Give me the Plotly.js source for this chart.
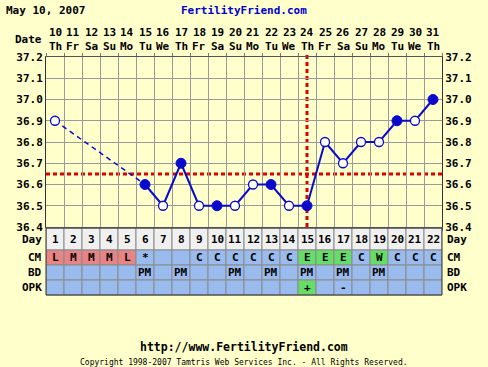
<!DOCTYPE html>
<html>
<head>
<meta charset="utf-8">
<script src="https://cdn.plot.ly/plotly-3.0.1.min.js"></script>
<style>
html,body{margin:0;padding:0;background:#FFFFCC;}
#chart{width:488px;height:367px;}
</style>
</head>
<body>
<div id="chart"></div>
<script>
// ---- data ----
const days = [1,2,3,4,5,6,7,8,9,10,11,12,13,14,15,16,17,18,19,20,21,22];
const dateNums = ['10','11','12','13','14','15','16','17','18','19','20','21','22','23','24','25','26','27','28','29','30','31'];
const weekdays = ['Th','Fr','Sa','Su','Mo','Tu','We','Th','Fr','Sa','Su','Mo','Tu','We','Th','Fr','Sa','Su','Mo','Tu','We','Th'];
const temps = [36.9,null,null,null,null,36.6,36.5,36.7,36.5,36.5,36.5,36.6,36.6,36.5,36.5,36.8,36.7,36.8,36.8,36.9,36.9,37.0];
const filled = [0,0,0,0,0,1,0,1,0,1,0,0,1,0,1,0,0,0,0,1,0,1];
const coverline = 36.65;
const ovulationDay = 15;
const cm  = ['L','M','M','M','L','*','','','C','C','C','C','C','C','E','E','E','C','W','C','C','C'];
const bd  = ['','','','','','PM','','PM','','','PM','','PM','','PM','','PM','','PM','','',''];
const opk = ['','','','','','','','','','','','','','','+','','-','','','','',''];
const yTicks = [36.4,36.5,36.6,36.7,36.8,36.9,37.0,37.1,37.2];
const rowLabels = ['Day','CM','BD','OPK'];

// ---- geometry helpers ----
const W = 488, H = 367;
const M = {l:46, r:46, t:57, b:140};
const plotH = H - M.t - M.b; // 170
const plotBottom = H - M.b;  // 227
const plotW = W - M.l - M.r;
const py = p => (plotBottom - p) / plotH;
const px = p => (p - M.l) / plotW;

const FONT = 'DejaVu Sans Mono, monospace';
const BLUE = '#0A0ACC';
const RED = '#DD0000';

// ---- traces ----
const traces = [];
const valid = days.map((d,i)=>i).filter(i=>temps[i]!==null);
for (let k=1;k<valid.length;k++){
  const a=valid[k-1], b=valid[k];
  if (b-a>1){
    traces.push({x:[days[a],days[b]], y:[temps[a],temps[b]], mode:'lines',
      line:{color:BLUE,width:1.5,dash:'5px,4px'}, hoverinfo:'skip', showlegend:false});
  }
}
traces.push({x:days, y:temps, mode:'lines', connectgaps:false,
  line:{color:BLUE,width:2}, hoverinfo:'skip', showlegend:false});
const openX=[],openY=[],fillX=[],fillY=[];
days.forEach((d,i)=>{ if(temps[i]===null) return; if(filled[i]){fillX.push(d);fillY.push(temps[i]);} else {openX.push(d);openY.push(temps[i]);} });
traces.push({x:openX,y:openY,mode:'markers',marker:{symbol:'circle',size:9,color:'#FFFFFF',line:{color:BLUE,width:1.3}},hoverinfo:'skip',showlegend:false});
traces.push({x:fillX,y:fillY,mode:'markers',marker:{symbol:'circle',size:10,color:BLUE,line:{color:BLUE,width:1}},hoverinfo:'skip',showlegend:false});
traces.push({x:[null],y:[null],yaxis:'y2',mode:'markers',hoverinfo:'skip',showlegend:false});

// ---- shapes ----
const shapes = [];
shapes.push({type:'line',xref:'paper',x0:0,x1:1,yref:'y',y0:coverline,y1:coverline,layer:'between',
  line:{color:RED,width:3,dash:'4px,3px'}});
shapes.push({type:'line',xref:'x',x0:ovulationDay,x1:ovulationDay,yref:'paper',y0:0,y1:1.015,layer:'between',
  line:{color:RED,width:3,dash:'4px,3px'}});

const rowsPx = [[228,250],[250,265],[265,280],[280,295]];
const rowCenters = rowsPx.map(r=>(r[0]+r[1])/2);
const cmColor = v => (v==='L'||v==='M') ? '#E88484' : ((v==='E'||v==='W') ? '#66DD66' : '#99BBEE');
const opkColor = v => v==='+' ? '#66DD66' : '#99BBEE';
days.forEach((d,i)=>{
  const fills = ['#F0F0F0', cmColor(cm[i]), '#99BBEE', opkColor(opk[i])];
  rowsPx.forEach((r,ri)=>{
    shapes.push({type:'rect',xref:'x',x0:d-0.5,x1:d+0.5,yref:'paper',y0:py(r[1]),y1:py(r[0]),
      fillcolor:fills[ri],line:{color:'#8A8A8A',width:1},layer:'above'});
  });
});
shapes.push({type:'rect',xref:'paper',x0:0,x1:1,yref:'paper',y0:py(rowsPx[3][1]),y1:py(rowsPx[0][0]),
  line:{color:'#333333',width:1},layer:'above'});

// ---- annotations ----
const ann = [];
const txt = (o) => Object.assign({showarrow:false, font:{family:FONT,size:11,color:'#000',weight:'bold'}}, o);
ann.push(txt({text:'May 10, 2007', xref:'paper', x:px(4), xanchor:'left', yref:'paper', y:py(10), yanchor:'middle'}));
ann.push(txt({text:'FertilityFriend.com', xref:'paper', x:px(244), xanchor:'center', yref:'paper', y:py(10), yanchor:'middle', font:{family:FONT,size:11,color:'#0000CC',weight:'bold'}}));
ann.push(txt({text:'Date', xref:'paper', x:px(44), xanchor:'right', yref:'paper', y:py(40), yanchor:'middle'}));
days.forEach((d,i)=>{
  ann.push(txt({text:dateNums[i], xref:'x', x:d, xanchor:'center', yref:'paper', y:py(32), yanchor:'middle'}));
  ann.push(txt({text:weekdays[i], xref:'x', x:d, xanchor:'center', yref:'paper', y:py(46), yanchor:'middle'}));
  const rowTexts = [String(d), cm[i], bd[i], opk[i]];
  rowTexts.forEach((t,ri)=>{
    if(!t) return;
    ann.push(txt({text:t, xref:'x', x:d, xanchor:'center', yref:'paper', y:py(rowCenters[ri]), yanchor:'middle'}));
  });
});
rowLabels.forEach((t,ri)=>{
  ann.push(txt({text:t, xref:'paper', x:px(44), xanchor:'right', yref:'paper', y:py(rowCenters[ri]), yanchor:'middle'}));
  ann.push(txt({text:t, xref:'paper', x:px(445), xanchor:'left', yref:'paper', y:py(rowCenters[ri]), yanchor:'middle'}));
});
ann.push(txt({text:'http://www.FertilityFriend.com', xref:'paper', x:px(244), xanchor:'center', yref:'paper', y:py(347), yanchor:'middle', font:{family:FONT,size:11.5,color:'#000',weight:'bold'}}));
ann.push(txt({text:'Copyright 1998-2007 Tamtris Web Services Inc. - All Rights Reserved.', xref:'paper', x:px(244), xanchor:'center', yref:'paper', y:py(362), yanchor:'middle', font:{family:FONT,size:8,color:'#000'}}));

// ---- layout ----
const boundaries = [];
for (let b=0.5; b<=days.length+0.5; b+=1) boundaries.push(b);
const tickFont = {family:FONT,size:11,color:'#000',weight:'bold'};
const yCommon = {range:[36.4,37.2], tickvals:yTicks, ticktext:yTicks.map(v=>v.toFixed(1)), tickfont:tickFont,
  showgrid:true, gridcolor:'#9A9A9A', gridwidth:1, zeroline:false, showline:true, linecolor:'#333', linewidth:1,
  ticks:'', fixedrange:true};
const layout = {
  width:W, height:H, margin:M,
  paper_bgcolor:'#FFFFCC', plot_bgcolor:'#FFFFCC',
  showlegend:false,
  xaxis:{range:[0.5, days.length+0.5], tickvals:boundaries, showticklabels:false, showgrid:true, gridcolor:'#9A9A9A',
    zeroline:false, showline:true, linecolor:'#555', linewidth:1, mirror:'ticks', ticks:'outside', ticklen:3, tickcolor:'#777', fixedrange:true},
  yaxis:Object.assign({}, yCommon, {side:'left'}),
  yaxis2:Object.assign({}, yCommon, {side:'right', overlaying:'y', showgrid:false}),
  shapes:shapes,
  annotations:ann
};
Plotly.newPlot('chart', traces, layout, {staticPlot:true, displayModeBar:false});
</script>
</body>
</html>
